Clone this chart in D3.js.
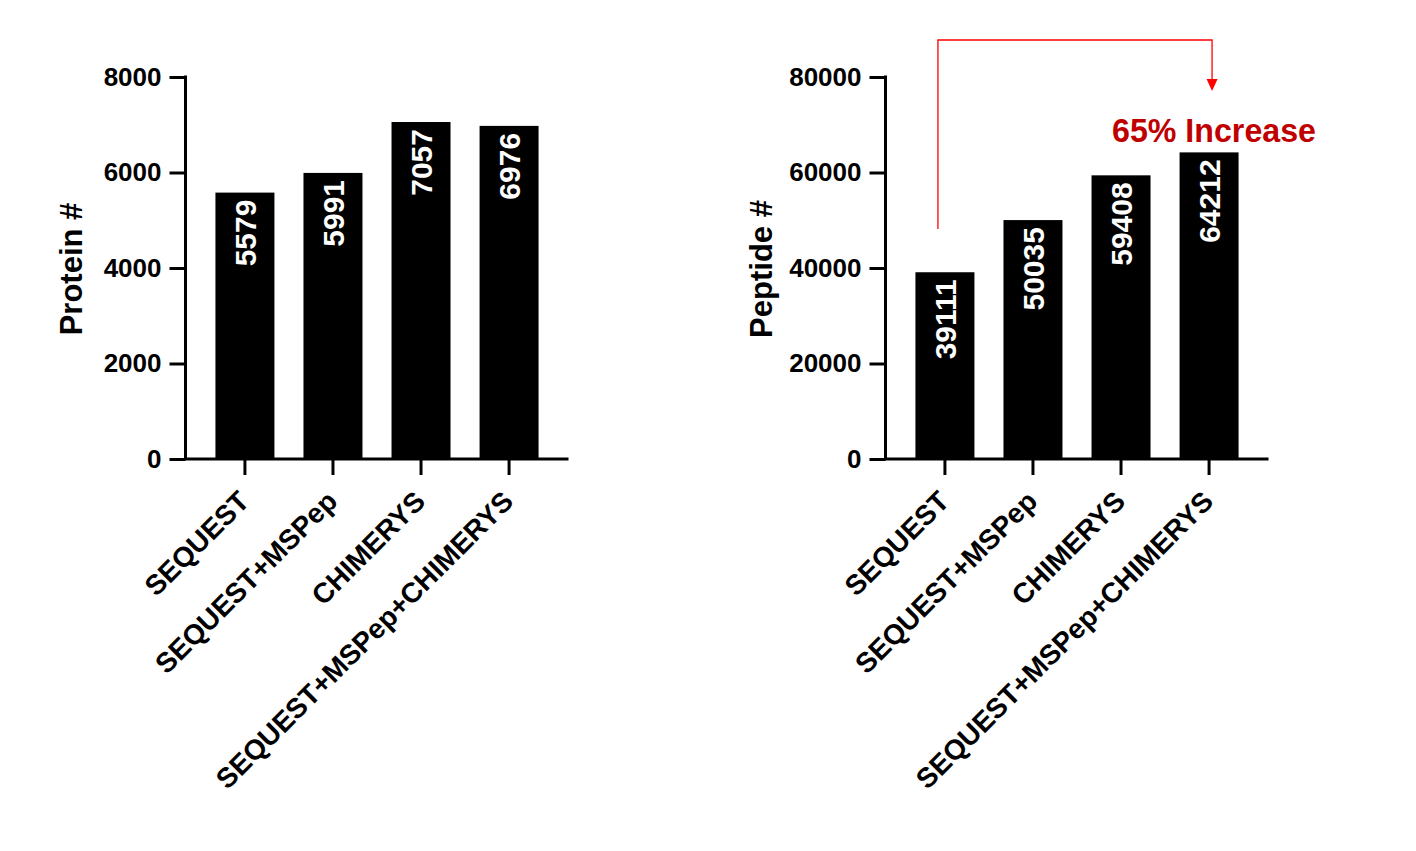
<!DOCTYPE html>
<html>
<head>
<meta charset="utf-8">
<script src="https://cdn.jsdelivr.net/npm/d3@7/dist/d3.min.js"></script>
<style>
  html, body { margin: 0; padding: 0; background: #fff; }
  svg { display: block; }
  text { font-family: "Liberation Sans", Arial, sans-serif; }
</style>
</head>
<body>
<svg id="chart" width="1416" height="851"></svg>
<script>
const categories = ["SEQUEST", "SEQUEST+MSPep", "CHIMERYS", "SEQUEST+MSPep+CHIMERYS"];
const proteinCounts = [5579, 5991, 7057, 6976];
const peptideCounts = [39111, 50035, 59408, 64212];
const proteinTicks = [0, 2000, 4000, 6000, 8000];
const peptideTicks = [0, 20000, 40000, 60000, 80000];
const proteinTitle = "Protein #";
const peptideTitle = "Peptide #";
const annotationText = "65% Increase";

const svg = d3.select("#chart");
const plotTop = 77, plotBottom = 459;

function panel(axisX, values, ticks, title, titleX) {
  const g = svg.append("g");
  const x = d3.scaleBand().domain(categories).range([axisX, axisX + 383])
    .paddingInner(0.33).paddingOuter(0.34);
  const y = d3.scaleLinear().domain([0, ticks[ticks.length - 1]]).range([plotBottom, plotTop]);

  g.selectAll("rect.bar").data(values).enter().append("rect")
    .attr("class", "bar")
    .attr("x", (d, i) => x(categories[i]))
    .attr("width", x.bandwidth())
    .attr("y", d => y(d))
    .attr("height", d => y(0) - y(d))
    .attr("fill", "#000");

  g.selectAll("text.val").data(values).enter().append("text")
    .attr("class", "val")
    .attr("transform", (d, i) => `translate(${x(categories[i]) + x.bandwidth() / 2},${y(d) + 7}) rotate(-90)`)
    .attr("text-anchor", "end")
    .attr("dy", "0.36em")
    .attr("fill", "#fff")
    .attr("font-weight", "bold")
    .attr("font-size", 30)
    .text(d => d);

  const yAxis = g.append("g").attr("transform", `translate(${axisX},0)`)
    .call(d3.axisLeft(y).tickValues(ticks).tickSize(16).tickPadding(8).tickFormat(d3.format("d")));
  yAxis.select(".domain").attr("stroke-width", 3).attr("d", `M0,${plotTop - 1.5}V${plotBottom}`);
  yAxis.selectAll(".tick line").attr("stroke-width", 3);
  yAxis.selectAll(".tick text").attr("font-size", 26).attr("font-weight", "bold")
    .attr("font-family", "'Liberation Sans', Arial, sans-serif").attr("fill", "#000");

  const xAxis = g.append("g").attr("transform", `translate(0,${plotBottom})`)
    .call(d3.axisBottom(x).tickSize(16).tickSizeOuter(0));
  xAxis.select(".domain").attr("stroke-width", 3).attr("d", `M${axisX - 1.5},0H${axisX + 383}`);
  xAxis.selectAll(".tick line").attr("stroke-width", 3);
  xAxis.selectAll(".tick text")
    .attr("font-size", 28).attr("font-weight", "bold")
    .attr("font-family", "'Liberation Sans', Arial, sans-serif").attr("fill", "#000")
    .attr("text-anchor", "end")
    .attr("dy", null)
    .attr("y", 0)
    .attr("transform", "translate(6,44) rotate(-45)");

  g.append("text")
    .attr("transform", `translate(${titleX},${(plotTop + plotBottom) / 2 + 1}) rotate(-90)`)
    .attr("text-anchor", "middle")
    .attr("font-size", 31)
    .attr("font-weight", "bold")
    .text(title);
  return { x, y };
}

panel(185.5, proteinCounts, proteinTicks, proteinTitle, 82);
const right = panel(885.5, peptideCounts, peptideTicks, peptideTitle, 772);

// annotation arrow
const x1 = right.x(categories[0]) + right.x.bandwidth() / 2 - 7;
const x2 = right.x(categories[3]) + right.x.bandwidth() / 2 + 3;
const yTop = 40, yStart = 229, yArrow = 79;
svg.append("path")
  .attr("d", `M${x1},${yStart}V${yTop}H${x2}V${yArrow}`)
  .attr("fill", "none").attr("stroke", "#ff0000").attr("stroke-width", 1.3);
svg.append("path")
  .attr("d", `M${x2 - 5.5},${yArrow}L${x2 + 5.5},${yArrow}L${x2},${yArrow + 12}Z`)
  .attr("fill", "#ff0000");
svg.append("text")
  .attr("x", 1214).attr("y", 142)
  .attr("text-anchor", "middle")
  .attr("font-family", "'Open Sans', sans-serif")
  .attr("font-weight", "bold")
  .attr("font-size", 34)
  .attr("fill", "#c00000")
  .attr("textLength", 204)
  .attr("lengthAdjust", "spacingAndGlyphs")
  .text(annotationText);
</script>
</body>
</html>
